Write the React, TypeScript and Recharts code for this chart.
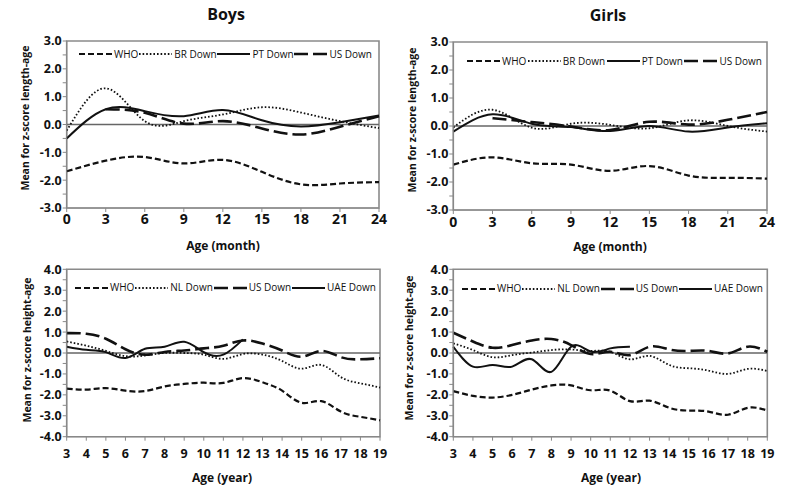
import { LineChart, Line, XAxis, YAxis, ReferenceLine, ReferenceArea } from "recharts";

const months = [0, 3, 6, 9, 12, 15, 18, 21, 24];
const years = [3, 4, 5, 6, 7, 8, 9, 10, 11, 12, 13, 14, 15, 16, 17, 18, 19];

// Boys, length-for-age (0-24 months)
const boysLenWho = [-1.68, -1.3, -1.17, -1.4, -1.27, -1.7, -2.15, -2.12, -2.07];
const boysLenBr = [-0.22, 1.3, 0.12, 0.12, 0.36, 0.62, 0.43, 0.12, -0.13];
const boysLenPt = [-0.5, 0.55, 0.48, 0.3, 0.52, 0.15, -0.07, 0.08, 0.32];
const boysLenUs = [null, 0.55, 0.42, 0.03, 0.12, -0.14, -0.36, -0.08, 0.3];

// Girls, length-for-age (0-24 months)
const girlsLenWho = [-1.38, -1.12, -1.33, -1.38, -1.6, -1.43, -1.77, -1.85, -1.88];
const girlsLenBr = [-0.05, 0.58, -0.06, 0.08, 0.04, -0.08, 0.2, 0.0, -0.2];
const girlsLenPt = [-0.2, 0.42, 0.08, -0.04, -0.18, 0.0, -0.2, -0.05, 0.1];
const girlsLenUs = [null, 0.28, 0.14, -0.02, -0.14, 0.15, 0.05, 0.22, 0.5];

// Boys, height-for-age (3-19 years)
const boysHtWho = [-1.7, -1.75, -1.68, -1.8, -1.82, -1.6, -1.48, -1.42, -1.43, -1.2, -1.4, -1.8, -2.38, -2.3, -2.8, -3.05, -3.22];
const boysHtNl = [0.55, 0.35, 0.1, -0.15, -0.12, 0.0, 0.0, -0.08, -0.28, -0.05, -0.08, -0.38, -0.75, -0.57, -1.15, -1.45, -1.65];
const boysHtUs = [0.95, 0.92, 0.68, 0.18, -0.08, 0.05, 0.12, 0.22, 0.35, 0.6, 0.45, 0.12, -0.18, 0.1, -0.2, -0.3, -0.25];
const boysHtUae = [0.3, 0.15, 0.04, -0.24, 0.2, 0.3, 0.54, 0.04, -0.08, 0.65, null, null, null, null, null, null, null];

// Girls, height-for-age (3-19 years)
const girlsHtWho = [-1.82, -2.05, -2.13, -2.0, -1.75, -1.55, -1.55, -1.78, -1.8, -2.3, -2.28, -2.62, -2.75, -2.8, -2.95, -2.62, -2.75];
const girlsHtNl = [0.46, 0.14, -0.2, -0.1, 0.02, 0.14, 0.17, 0.1, 0.06, -0.3, -0.14, -0.57, -0.73, -0.84, -1.0, -0.76, -0.86];
const girlsHtUs = [0.97, 0.55, 0.25, 0.38, 0.6, 0.67, 0.38, -0.05, 0.06, -0.1, 0.3, 0.17, 0.1, 0.1, -0.02, 0.3, 0.06];
const girlsHtUae = [0.3, -0.65, -0.57, -0.65, -0.3, -0.9, 0.3, 0.07, 0.22, 0.3, null, null, null, null, null, null, null];

const lenTicks = [-3, -2.5, -2, -1.5, -1, -0.5, 0, 0.5, 1, 1.5, 2, 2.5, 3];
const htTicks = [-4, -3.5, -3, -2.5, -2, -1.5, -1, -0.5, 0, 0.5, 1, 1.5, 2, 2.5, 3, 3.5, 4];

const FONT = "'Open Sans', 'DejaVu Sans', sans-serif";

const STYLES: Record<string, { dash?: string; width: number }> = {
  who: { dash: "6 3", width: 2.2 },
  dot: { dash: "1.6 2", width: 1.8 },
  solid: { width: 2 },
  long: { dash: "14 5", width: 2.6 },
};

type S = { key: string; name: string; style: string; values: (number | null)[] };

function makeRows(xs: number[], series: S[]) {
  return xs.map((x, i) => {
    const row: Record<string, number | null> = { x };
    series.forEach((s) => (row[s.key] = s.values[i]));
    return row;
  });
}

function LegendBox({ series, left, top, width }: { series: S[]; left: number; top: number; width: number }) {
  return (
    <div
      style={{
        position: "absolute", left, top, width, height: 13,
        display: "flex", justifyContent: "space-between", alignItems: "center",
        fontFamily: FONT, fontSize: 10, color: "#111", lineHeight: "13px",
      }}
    >
      {series.map((s) => {
        const st = STYLES[s.style];
        return (
          <div key={s.key} style={{ display: "flex", alignItems: "center" }}>
            <svg width={33} height={8} style={{ display: "block" }}>
              <line x1={0} y1={4} x2={33} y2={4} stroke="#111" strokeWidth={st.width} strokeDasharray={st.dash} />
            </svg>
            <span style={{ marginLeft: 2 }}>{s.name}</span>
          </div>
        );
      })}
    </div>
  );
}

type PanelProps = {
  left: number;
  top: number;
  width: number;
  height: number;
  margin: { top: number; right: number; bottom: number; left: number };
  yWidth: number;
  xs: number[];
  series: S[];
  yDomain: [number, number];
  yTicks: number[];
  xFont: number;
  xMargin: number;
};

function Panel(p: PanelProps) {
  const data = makeRows(p.xs, p.series);
  return (
    <div style={{ position: "absolute", left: p.left, top: p.top }}>
      <LineChart width={p.width} height={p.height} data={data} margin={p.margin}>
        <XAxis
          dataKey="x"
          type="number"
          domain={[p.xs[0], p.xs[p.xs.length - 1]]}
          ticks={p.xs}
          height={20}
          tickSize={4}
          tickMargin={p.xMargin}
          stroke="#888"
          tick={{ fill: "#111", fontSize: p.xFont, fontWeight: 700, fontFamily: FONT }}
        />
        <YAxis
          type="number"
          domain={p.yDomain}
          ticks={p.yTicks}
          width={p.yWidth}
          tickSize={4}
          tickMargin={1}
          stroke="#888"
          interval={0}
          tickFormatter={(v: number) => (Number.isInteger(v) ? v.toFixed(1) : "")}
          tick={{ fill: "#111", fontSize: 12.5, fontWeight: 700, fontFamily: FONT }}
        />
        <ReferenceArea
          x1={p.xs[0]}
          x2={p.xs[p.xs.length - 1]}
          y1={p.yDomain[0]}
          y2={p.yDomain[1]}
          fill="none"
          stroke="#8a8a8a"
          strokeWidth={1.6}
        />
        <ReferenceLine y={0} stroke="#666" strokeWidth={1.5} />
        {p.series.map((s) => {
          const st = STYLES[s.style];
          return (
            <Line
              key={s.key}
              dataKey={s.key}
              name={s.name}
              type="natural"
              stroke="#111"
              strokeWidth={st.width}
              strokeDasharray={st.dash}
              dot={false}
              activeDot={false}
              isAnimationActive={false}
            />
          );
        })}
      </LineChart>
    </div>
  );
}

const textBase = { position: "absolute" as const, fontFamily: FONT, fontWeight: 700, color: "#111", whiteSpace: "nowrap" as const };

function Label({ x, y, size, text, rotate }: { x: number; y: number; size: number; text: string; rotate?: boolean }) {
  return (
    <div
      style={{
        ...textBase, left: x, top: y, fontSize: size,
        transform: rotate ? "translate(-50%, -50%) rotate(-90deg)" : "translate(-50%, -50%)",
      }}
    >
      {text}
    </div>
  );
}

export default function App() {
  const boysLen: S[] = [
    { key: "who", name: "WHO", style: "who", values: boysLenWho },
    { key: "br", name: "BR Down", style: "dot", values: boysLenBr },
    { key: "pt", name: "PT Down", style: "solid", values: boysLenPt },
    { key: "us", name: "US Down", style: "long", values: boysLenUs },
  ];
  const girlsLen: S[] = [
    { key: "who", name: "WHO", style: "who", values: girlsLenWho },
    { key: "br", name: "BR Down", style: "dot", values: girlsLenBr },
    { key: "pt", name: "PT Down", style: "solid", values: girlsLenPt },
    { key: "us", name: "US Down", style: "long", values: girlsLenUs },
  ];
  const boysHt: S[] = [
    { key: "who", name: "WHO", style: "who", values: boysHtWho },
    { key: "nl", name: "NL Down", style: "dot", values: boysHtNl },
    { key: "us", name: "US Down", style: "long", values: boysHtUs },
    { key: "uae", name: "UAE Down", style: "solid", values: boysHtUae },
  ];
  const girlsHt: S[] = [
    { key: "who", name: "WHO", style: "who", values: girlsHtWho },
    { key: "nl", name: "NL Down", style: "dot", values: girlsHtNl },
    { key: "us", name: "US Down", style: "long", values: girlsHtUs },
    { key: "uae", name: "UAE Down", style: "solid", values: girlsHtUae },
  ];

  return (
    <div style={{ position: "absolute", left: 0, top: 0, width: 787, height: 486, background: "#fff", overflow: "hidden" }}>
      <Panel
        left={0} top={0} width={390} height={245}
        margin={{ top: 41, right: 11, bottom: 17, left: 0 }} yWidth={66.7}
        xs={months} series={boysLen} yDomain={[-3, 3]} yTicks={lenTicks}
        xFont={14} xMargin={2}
      />
      <Panel
        left={390} top={0} width={397} height={245}
        margin={{ top: 42, right: 20, bottom: 15, left: 0 }} yWidth={63.3}
        xs={months} series={girlsLen} yDomain={[-3, 3]} yTicks={lenTicks}
        xFont={14} xMargin={3}
      />
      <Panel
        left={0} top={240} width={390} height={246}
        margin={{ top: 29.3, right: 10, bottom: 29.3, left: 0 }} yWidth={66.7}
        xs={years} series={boysHt} yDomain={[-4, 4]} yTicks={htTicks}
        xFont={12.5} xMargin={8}
      />
      <Panel
        left={390} top={240} width={397} height={246}
        margin={{ top: 29.3, right: 19.7, bottom: 29.3, left: 0 }} yWidth={63.3}
        xs={years} series={girlsHt} yDomain={[-4, 4]} yTicks={htTicks}
        xFont={12.5} xMargin={8}
      />

      <LegendBox series={boysLen} left={79} top={47.5} width={293} />
      <LegendBox series={girlsLen} left={467} top={54.5} width={295} />
      <LegendBox series={boysHt} left={75} top={281} width={301} />
      <LegendBox series={girlsHt} left={462} top={282} width={301} />

      <Label x={226} y={14} size={16} text="Boys" />
      <Label x={608} y={15} size={16} text="Girls" />
      <Label x={223} y={245} size={12} text="Age (month)" />
      <Label x={610} y={246} size={12} text="Age (month)" />
      <Label x={222} y={477} size={12} text="Age (year)" />
      <Label x={611} y={477} size={12} text="Age (year)" />
      <Label x={25} y={118} size={10.5} text="Mean for z-score length-age" rotate />
      <Label x={412} y={120} size={10.5} text="Mean for z-score length-age" rotate />
      <Label x={27} y={350} size={10.5} text="Mean for z-score height-age" rotate />
      <Label x={409} y={348} size={10.5} text="Mean for z-score height-age" rotate />
    </div>
  );
}
